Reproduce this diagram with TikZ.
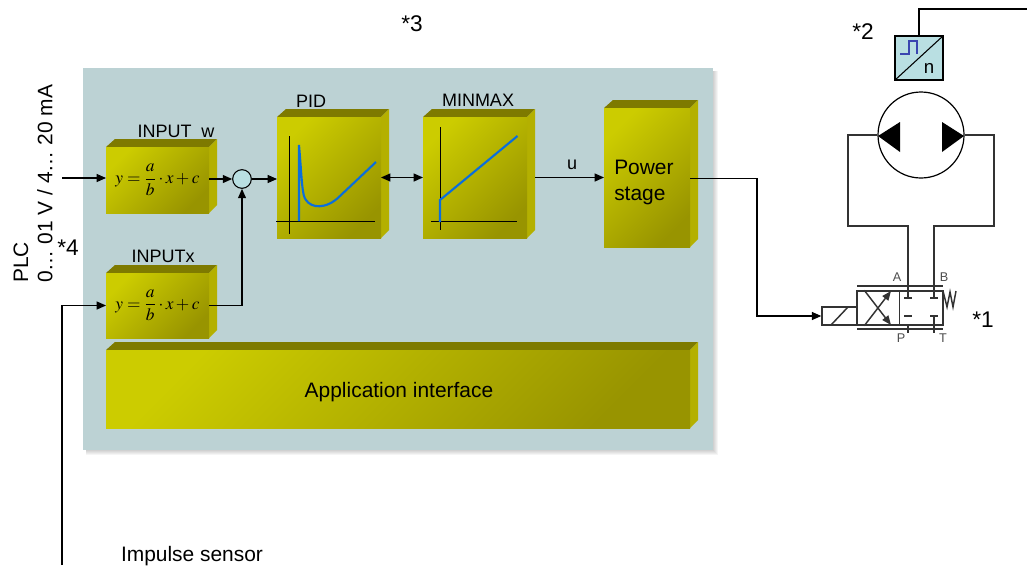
\documentclass[tikz,border=0pt]{standalone}
\usepackage{mathptmx}
\usepackage{fontspec}
\setmainfont{Liberation Sans}
\usetikzlibrary{arrows.meta}

\definecolor{panelblue}{HTML}{BCD2D4}
\definecolor{boxlight}{HTML}{CCCC00}
\definecolor{boxdark}{HTML}{989400}
\definecolor{boxtop}{HTML}{7E7A00}
\definecolor{boxside}{HTML}{B4B000}
\definecolor{sensorblue}{HTML}{B9DFE2}
\definecolor{curveblue}{HTML}{0A6EDC}
\definecolor{pulseblue}{HTML}{3A45B0}

\tikzset{
    wire/.style={line width=0.8pt,-{Triangle[length=7pt,width=6pt]}},
    hydro/.style={line width=1.1pt,black!80},
    curve/.style={line width=1.6pt,curveblue},
    axisline/.style={line width=0.7pt},
    blockface/.style={inner sep=0pt,outer sep=0pt,top color=boxlight,bottom color=boxdark,shading angle=45},
    label/.style={font=\fontsize{13.5}{15}\selectfont,inner sep=0pt},
    bigtext/.style={font=\fontsize{15.7}{19.5}\selectfont,inner sep=0pt},
    note/.style={font=\fontsize{17}{18}\selectfont,inner sep=0pt},
    portlabel/.style={font=\fontsize{9.5}{10}\selectfont,text=black!70,inner sep=0pt}
}

\newcommand{\solidblock}[6]{
    \fill[boxtop] (#2,#3) -- (#2+9,#3-8) -- (#4+8,#3-8) -- (#4,#3) -- cycle;
    \fill[boxside] (#4,#3) -- (#4+8,#3-8) -- (#4+8,#5-8) -- (#4,#5) -- cycle;
    \node[blockface,minimum width={(#4-#2)*0.75pt},minimum height={(#5-#3)*0.75pt}] at ({(#2+#4)/2},{(#3+#5)/2}) (#1) {#6};
}
\newcommand{\scaleformula}{\fontsize{13}{15}\selectfont$\displaystyle y=\frac{a}{b}\cdot x+c$}

\begin{document}
\begin{tikzpicture}[x=0.75pt,y=-0.75pt]

    \useasboundingbox (0,0) rectangle (1027,565);

    \foreach \s in {0,...,5}
        \fill[black,opacity=0.04] (86,71) rectangle (713+\s,450+\s);
    \fill[panelblue] (83,68) rectangle (713,450);

    \solidblock{inw}{106}{147}{209}{213}{\scaleformula}
    \solidblock{inx}{106}{273}{209}{338}{\scaleformula}
    \solidblock{pid}{277}{117}{381}{238}{}
    \solidblock{minmax}{423}{117}{527}{238}{}
    \solidblock{power}{604}{108}{690}{247}{}
    \solidblock{app}{106}{350}{690}{428}{}

    \node[bigtext,align=left,anchor=west] at (614,182) (powertext) {Power\\stage};
    \node[bigtext] at (399,392) (apptext) {Application interface};

    \node[label] at (176,131) (inwlabel) {INPUT\ \ w};
    \node[label] at (163,256) (inxlabel) {INPUTx};
    \node[label] at (311,101) (pidlabel) {PID};
    \node[label] at (478,100) (minmaxlabel) {MINMAX};
    \node[label] at (572,165) (ulabel) {u};
    \node[bigtext] at (192,556) (sensorlabel) {Impulse sensor};

    \node[note] at (412,24) (note3) {*3};
    \node[note] at (863,32) (note2) {*2};
    \node[note] at (983,320) (note1) {*1};
    \node[note] at (68,248) (note4) {*4};

    \node[bigtext,rotate=90,anchor=west] at (21,283) (plc) {PLC};
    \node[bigtext,rotate=90,anchor=west] at (45,283) (range) {0\dots{} 01 V / 4\dots{} 20 mA};

    \draw[axisline] (289.5,136) -- (289.5,234);
    \draw[axisline] (276,221) -- (375,221);
    \draw[curve] (299,221) -- (299,145) .. controls (302,180) and (302,196) .. (306,200) .. controls (311,208) and (326,210) .. (340,196) -- (376,162);

    \draw[axisline] (440,127) -- (440,230);
    \draw[axisline] (431,221) -- (517,221);
    \draw[curve] (440,222) -- (440,200) -- (517.5,136);

    \node[circle,draw,fill=sensorblue,line width=0.8pt,minimum size=14pt,inner sep=0pt] at (242,179) (sum) {};

    \coordinate (plcin) at (62,178);
    \coordinate (sensor) at (62,565);
    \draw[wire] (plcin) -- (plcin -| inw.west);
    \draw[wire] (sensor) |- (inx.west);
    \draw[wire] (inw.east |- sum) -- (sum);
    \draw[wire] (inx.east) -| (sum);
    \draw[wire] (sum) -- (sum -| pid.west);
    \draw[wire,{Triangle[length=7pt,width=6pt]}-{Triangle[length=7pt,width=6pt]}] (pid.east) -- (minmax.west);
    \draw[wire] ([xshift=6pt]minmax.east) -- (minmax.east -| power.west);

    \node[draw,hydro,minimum width=26.25pt,minimum height=13.5pt,inner sep=0pt] at (839.5,316) (solenoid) {};
    \node[draw,hydro,minimum width=31.9pt,minimum height=25.5pt,inner sep=0pt] at (878.25,308) (cellleft) {};
    \node[draw,hydro,minimum width=32.6pt,minimum height=25.5pt,inner sep=0pt] at (921.25,308) (cellright) {};

    \coordinate (elbow) at (757,316);
    \draw[wire] ([yshift=-1pt]power.east) -- ([yshift=-1pt]power.east -| elbow) -- (elbow) -- (solenoid.west);

    \draw[hydro] (831,325) -- (848,307);
    \draw[hydro] (857,286) -- (943,286);
    \draw[hydro] (857,329) -- (943,329);
    \draw[hydro,-{Triangle[length=7pt,width=5.5pt]}] (cellleft.south west) ++(8,0) -- (891,291);
    \draw[hydro,-{Triangle[length=7pt,width=5.5pt]}] (cellleft.north west) ++(8,0) -- (891,325);

    \coordinate (porta) at (908,298);
    \coordinate (portb) at (934,298);
    \coordinate (portp) at (908,316);
    \coordinate (portt) at (934,316);
    \draw[hydro] (904,298) -- (912,298);
    \draw[hydro] (930,298) -- (938,298);
    \draw[hydro] (904,316) -- (912,316);
    \draw[hydro] (930,316) -- (938,316);
    \draw[hydro] (portt) -- (934,333);
    \draw[hydro] (908,325) -- (908,333);
    \draw[hydro] (943,291) -- (947,307) -- (950,292) -- (953,307) -- (956,291);

    \node[portlabel] at (897,277) (labela) {A};
    \node[portlabel] at (944,277) (labelb) {B};
    \node[portlabel] at (901,338) (labelp) {P};
    \node[portlabel] at (943,338) (labelt) {T};

    \node[circle,draw,line width=0.9pt,minimum size=64.5pt,inner sep=0pt] at (921,135) (pump) {};
    \fill (878,136) -- (900,122) -- (900,152) -- cycle;
    \fill (964,136) -- (942,122) -- (942,152) -- cycle;

    \coordinate (loopleft) at (848,226);
    \coordinate (loopright) at (994,226);
    \draw[hydro] (pump.west) -| (loopleft) -| (porta);
    \draw[hydro] (pump.east) -| (loopright) -| (portb);

    \node[draw,fill=sensorblue,line width=0.9pt,minimum width=36pt,minimum height=33pt,inner sep=0pt] at (919,58) (converter) {};
    \draw[line width=0.8pt] (converter.south west) -- (converter.north east);
    \draw[line width=0.8pt,pulseblue] (900,54) -- (909,54) -- (909,41) -- (917,41) -- (917,54);
    \node[label,font=\fontsize{14}{14}\selectfont] at (929,68) (convtext) {n};

    \coordinate (feedback) at (1027,9);
    \draw[line width=0.9pt] (converter.north) |- (feedback);

\end{tikzpicture}
\end{document}
